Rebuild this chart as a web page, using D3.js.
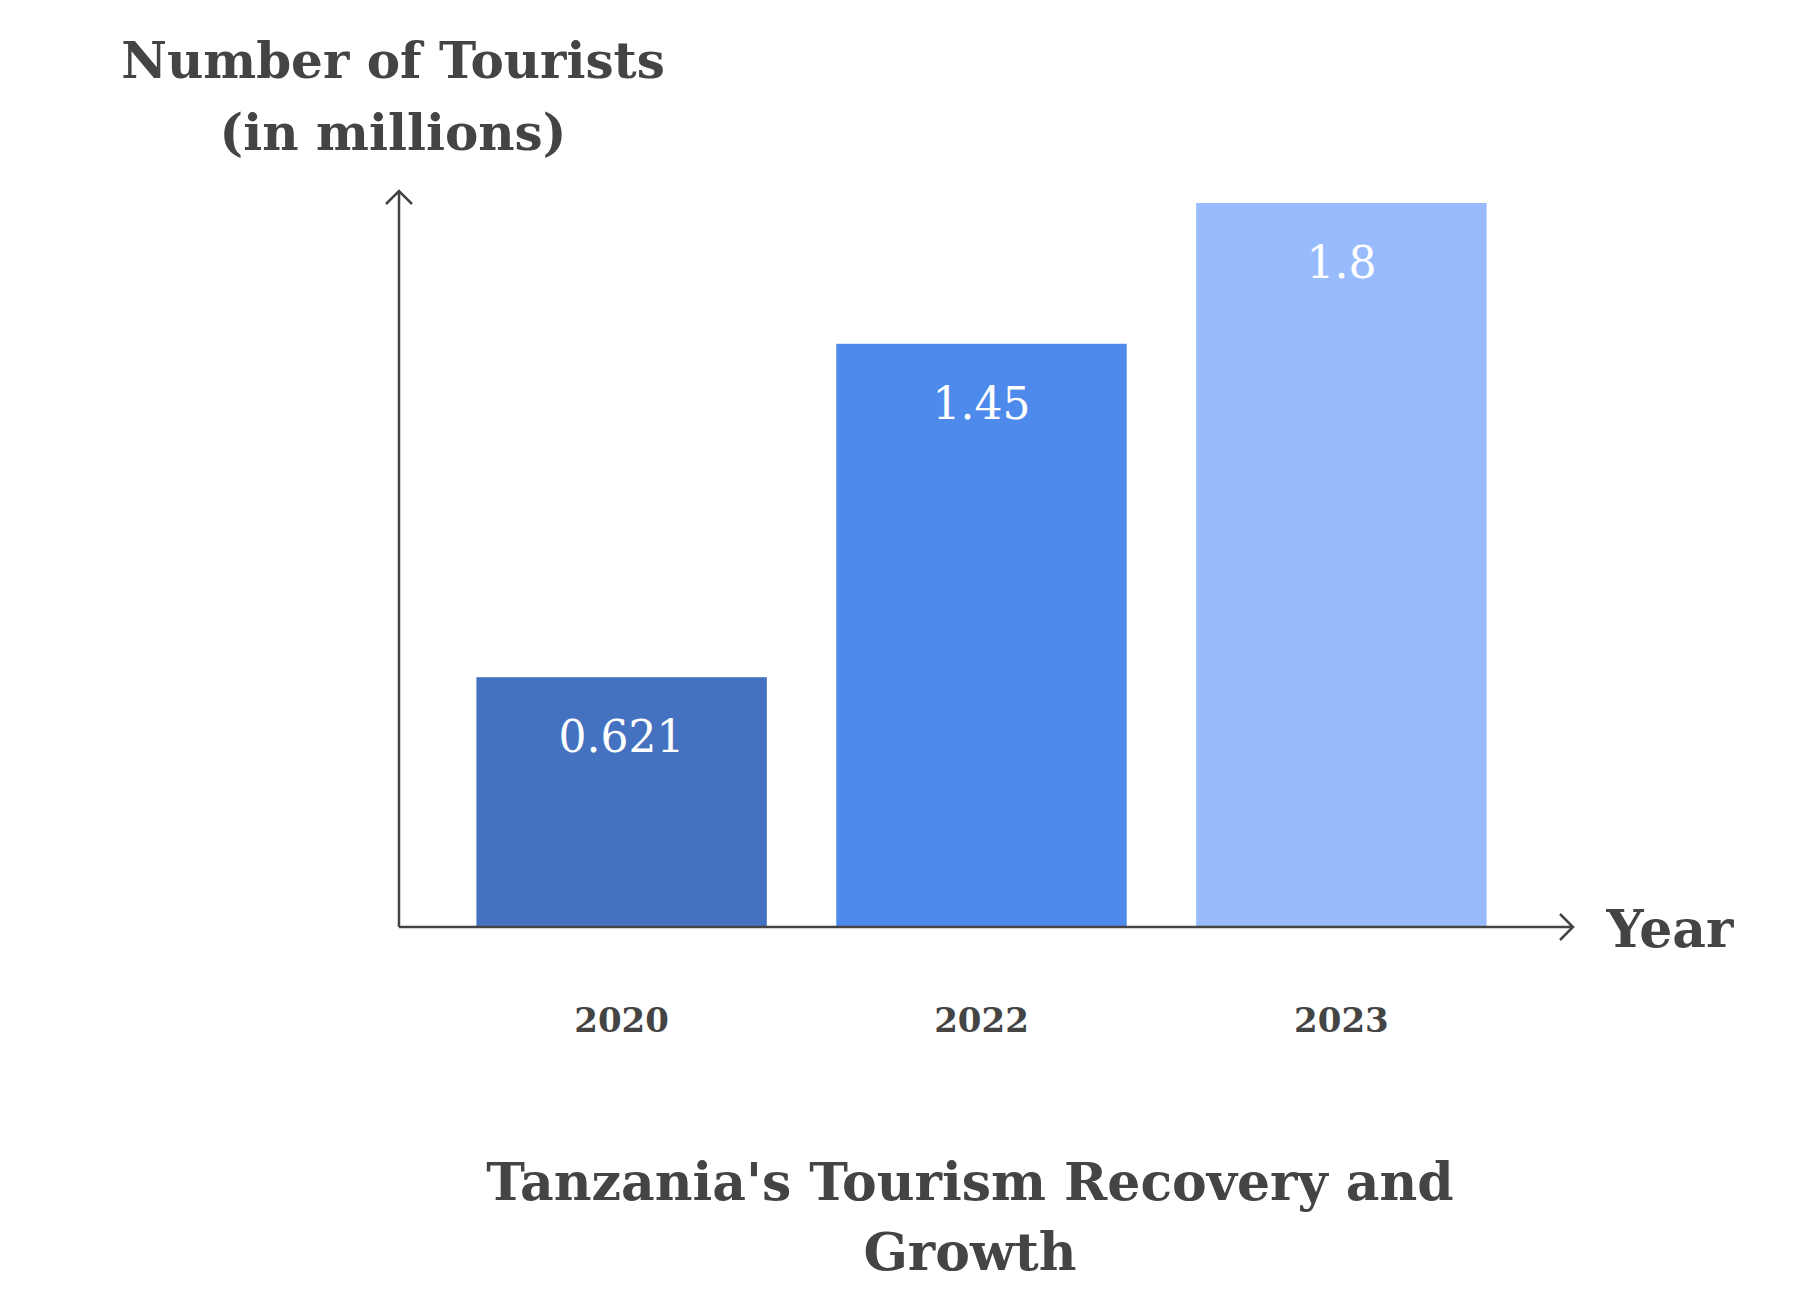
<!DOCTYPE html><html><head><meta charset="utf-8"><script src="https://cdn.jsdelivr.net/npm/d3@7"></script>
<style>body{margin:0;background:#fff}text{font-family:"DejaVu Serif",serif;font-weight:bold}</style></head><body><svg id="c" width="1803" height="1293"></svg>
<script>
const years=["2020","2022","2023"];
const tourists=[0.621,1.45,1.8];
const colors=["#4472c0","#4e8aec","#97bbfd"];
const svg=d3.select("#c");
const x0=399,y0=927;
const x=d3.scaleBand().domain(years).range([x0,1564]).paddingInner(0.193).paddingOuter(0.215);
const y=d3.scaleLinear().domain([0,1.8]).range([y0,203]);
const ink="#444";
svg.selectAll("rect").data(years).join("rect").attr("x",d=>x(d)).attr("width",x.bandwidth())
 .attr("y",(d,i)=>y(tourists[i])).attr("height",(d,i)=>y0-y(tourists[i])).attr("fill",(d,i)=>colors[i]);
svg.selectAll(".v").data(years).join("text").attr("x",d=>x(d)+x.bandwidth()/2).attr("y",(d,i)=>y(tourists[i])+75)
 .attr("text-anchor","middle").attr("fill","#fff").attr("font-size",44).style("font-weight","normal").text((d,i)=>tourists[i]);
svg.selectAll(".t").data(years).join("text").attr("x",d=>x(d)+x.bandwidth()/2).attr("y",1032)
 .attr("text-anchor","middle").attr("fill",ink).attr("font-size",34).text(d=>d);
const ax=svg.append("g").attr("stroke",ink).attr("stroke-width",2.5).attr("fill","none");
ax.append("path").attr("d",`M${x0},${y0}V191M${x0-13},204L${x0},191L${x0+13},204`);
ax.append("path").attr("d",`M${x0},${y0}H1573M1560,${y0-13}L1573,${y0}L1560,${y0+13}`);
svg.append("text").attr("x",1670).attr("y",947).attr("text-anchor","middle").attr("fill",ink).attr("font-size",52).text("Year");
svg.append("text").attr("x",393).attr("y",78).attr("text-anchor","middle").attr("fill",ink).attr("font-size",50).text("Number of Tourists");
svg.append("text").attr("x",393).attr("y",150).attr("text-anchor","middle").attr("fill",ink).attr("font-size",50).text("(in millions)");
svg.append("text").attr("x",970).attr("y",1200).attr("text-anchor","middle").attr("fill",ink).attr("font-size",52).text("Tanzania's Tourism Recovery and");
svg.append("text").attr("x",970).attr("y",1270).attr("text-anchor","middle").attr("fill",ink).attr("font-size",52).text("Growth");
</script></body></html>
